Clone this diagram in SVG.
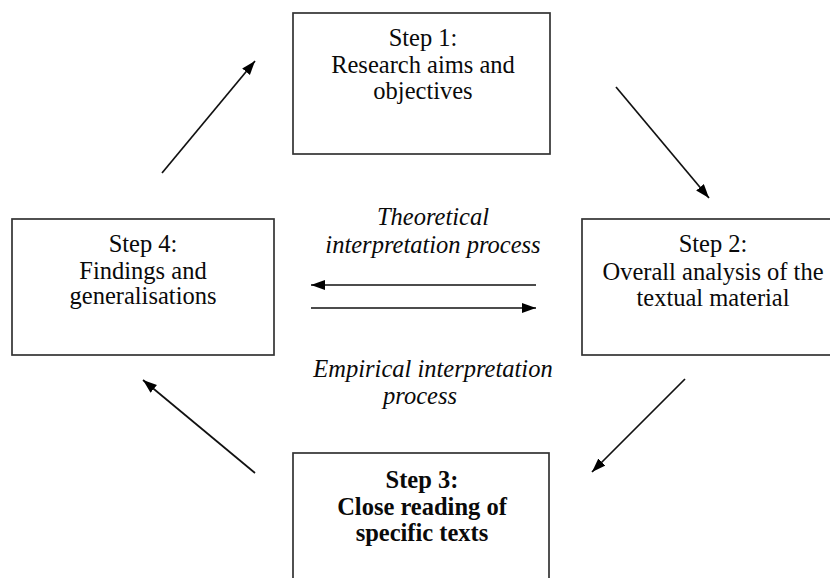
<svg xmlns="http://www.w3.org/2000/svg" width="830" height="578" viewBox="0 0 830 578">
  <defs>
    <marker id="head" markerWidth="15" markerHeight="11" refX="14" refY="5" orient="auto" markerUnits="userSpaceOnUse">
      <path d="M0,0 L14,5 L0,10 z" fill="#000"/>
    </marker>
    <style>
      .box { fill: #fff; stroke: #333; stroke-width: 1.7; }
      .lbl { font-family: "Liberation Serif", "Times New Roman", serif; font-size: 24.5px; fill: #0a0a0a; text-anchor: middle; }
      .bold { font-weight: bold; }
      .ital { font-style: italic; }
      .link { fill: none; stroke: #111; stroke-width: 1.7; marker-end: url(#head); }
    </style>
  </defs>
  <rect width="830" height="578" fill="#fff"/>

  <g id="step1">
    <rect class="box" x="293" y="13" width="257" height="141"/>
    <text class="lbl" x="423" y="46">Step 1:</text>
    <text class="lbl" x="423" y="73">Research aims and</text>
    <text class="lbl" x="423" y="99">objectives</text>
  </g>

  <g id="step2">
    <rect class="box" x="582" y="219" width="264" height="136"/>
    <text class="lbl" x="713" y="252">Step 2:</text>
    <text class="lbl" x="713" y="280">Overall analysis of the</text>
    <text class="lbl" x="713" y="306">textual material</text>
  </g>

  <g id="step3">
    <rect class="box" x="293" y="453" width="256" height="140"/>
    <text class="lbl bold" x="422" y="488">Step 3:</text>
    <text class="lbl bold" x="422" y="515">Close reading of</text>
    <text class="lbl bold" x="422" y="541">specific texts</text>
  </g>

  <g id="step4">
    <rect class="box" x="12" y="219" width="262" height="136"/>
    <text class="lbl" x="143" y="252">Step 4:</text>
    <text class="lbl" x="143" y="279">Findings and</text>
    <text class="lbl" x="143" y="304">generalisations</text>
  </g>

  <g id="theoretical">
    <text class="lbl ital" x="433" y="225">Theoretical</text>
    <text class="lbl ital" x="433" y="253">interpretation process</text>
  </g>

  <g id="empirical">
    <text class="lbl ital" x="433" y="377">Empirical interpretation</text>
    <text class="lbl ital" x="420" y="404">process</text>
  </g>

  <g id="connectors">
    <line class="link" x1="162" y1="173" x2="255" y2="61"/>
    <line class="link" x1="616" y1="87" x2="709" y2="198"/>
    <line class="link" x1="685" y1="379" x2="592" y2="472"/>
    <line class="link" x1="255" y1="473" x2="143" y2="380"/>
    <line class="link" x1="536" y1="285" x2="311" y2="285"/>
    <line class="link" x1="311" y1="308" x2="536" y2="308"/>
  </g>
</svg>
